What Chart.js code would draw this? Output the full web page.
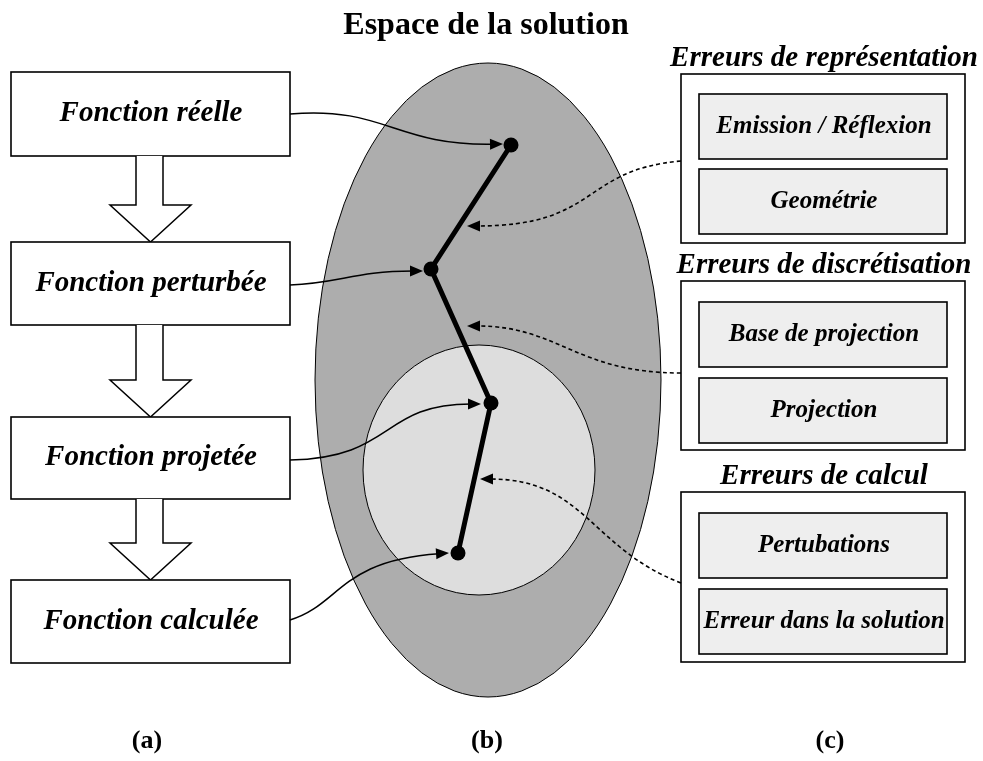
<!DOCTYPE html>
<html>
<head>
<meta charset="utf-8">
<script src="https://cdn.jsdelivr.net/npm/chart.js@4"></script>
<style>
  body { margin: 0; background: #fff; }
  canvas { display: block; }
</style>
</head>
<body>
<canvas id="c" width="983" height="761"></canvas>
<script>
// ---------- DONNEES ----------
const TITLE = "Espace de la solution";
const PANEL_LABELS = ["(a)", "(b)", "(c)"];
const PANEL_X = [147, 487, 830];

// chemin dans l'espace de la solution
const pathX = [511, 431, 491, 458];
const pathY = [145, 269, 403, 553];

// colonne (a)
const leftLabels = ["Fonction réelle", "Fonction perturbée", "Fonction projetée", "Fonction calculée"];
const leftTop = [72, 242, 417, 580];
const leftBottom = [156, 325, 499, 663];

// colonne (c)
const groupTitles = ["Erreurs de représentation", "Erreurs de discrétisation", "Erreurs de calcul"];
const groupItems = [
  ["Emission / Réflexion", "Geométrie"],
  ["Base de projection", "Projection"],
  ["Pertubations", "Erreur dans la solution"]
];
const groupTop = [74, 281, 492];
const groupBottom = [243, 450, 662];
const itemTop = [[94, 169], [302, 378], [513, 589]];

// liens (courbes de Bezier : depart, ctrl1, ctrl2, arrivee)
const solidLinks = [
  [[290, 114], [385, 106], [395, 146], [503, 144]],
  [[290, 285], [340, 283], [355, 271], [423, 271]],
  [[290, 460], [395, 458], [380, 404], [481, 404]],
  [[290, 620], [340, 605], [340, 560], [449, 553]]
];
const dottedLinks = [
  [[681, 161], [580, 170], [600, 226], [467, 226]],
  [[681, 373], [575, 373], [560, 326], [467, 326]],
  [[681, 583], [590, 548], [585, 479], [480, 479]]
];

// ---------- DESSIN ----------
const SERIF = '"Liberation Serif", "DejaVu Serif", serif';

function arrowHead(ctx, x, y, ang) {
  const L = 13, W = 5.5;
  ctx.beginPath();
  ctx.moveTo(x, y);
  ctx.lineTo(x - L * Math.cos(ang) + W * Math.sin(ang), y - L * Math.sin(ang) - W * Math.cos(ang));
  ctx.lineTo(x - L * Math.cos(ang) - W * Math.sin(ang), y - L * Math.sin(ang) + W * Math.cos(ang));
  ctx.closePath();
  ctx.fill();
}

function drawLink(ctx, X, Y, link, dashed) {
  const p = link.map(q => [X(q[0]), Y(q[1])]);
  const ang = Math.atan2(p[3][1] - p[2][1], p[3][0] - p[2][0]);
  const ex = p[3][0] - 10 * Math.cos(ang), ey = p[3][1] - 10 * Math.sin(ang);
  ctx.save();
  ctx.strokeStyle = "#000";
  ctx.fillStyle = "#000";
  ctx.lineWidth = dashed ? 1.6 : 1.5;
  ctx.setLineDash(dashed ? [4, 3] : []);
  ctx.beginPath();
  ctx.moveTo(p[0][0], p[0][1]);
  ctx.bezierCurveTo(p[1][0], p[1][1], p[2][0], p[2][1], ex, ey);
  ctx.stroke();
  ctx.setLineDash([]);
  arrowHead(ctx, p[3][0], p[3][1], ang);
  ctx.restore();
}

function box(ctx, x0, y0, x1, y1, fill) {
  ctx.fillStyle = fill;
  ctx.fillRect(x0, y0, x1 - x0, y1 - y0);
  ctx.strokeStyle = "#000";
  ctx.lineWidth = 1.6;
  ctx.strokeRect(x0, y0, x1 - x0, y1 - y0);
}

const diagram = {
  id: "diagram",
  beforeDatasetsDraw(chart) {
    const ctx = chart.ctx;
    const X = v => chart.scales.x.getPixelForValue(v);
    const Y = v => chart.scales.y.getPixelForValue(v);
    ctx.save();

    // ellipses
    ctx.lineWidth = 1;
    ctx.strokeStyle = "#000";
    ctx.fillStyle = "#adadad";
    ctx.beginPath();
    ctx.ellipse(X(488), Y(380), X(661) - X(488), Y(697) - Y(380), 0, 0, Math.PI * 2);
    ctx.fill(); ctx.stroke();
    ctx.fillStyle = "#dddddd";
    ctx.beginPath();
    ctx.ellipse(X(479), Y(470), X(595) - X(479), Y(595) - Y(470), 0, 0, Math.PI * 2);
    ctx.fill(); ctx.stroke();

    // titre
    ctx.fillStyle = "#000";
    ctx.textAlign = "center";
    ctx.textBaseline = "middle";
    ctx.font = "bold 32px " + SERIF;
    ctx.fillText(TITLE, X(486), Y(26));

    // colonne (a)
    leftLabels.forEach((lab, i) => {
      box(ctx, X(11), Y(leftTop[i]), X(290), Y(leftBottom[i]), "#fff");
      ctx.fillStyle = "#000";
      ctx.font = "italic bold 29px " + SERIF;
      ctx.fillText(lab, X(151), Y((leftTop[i] + leftBottom[i]) / 2));
      if (i < leftLabels.length - 1) {
        const y0 = Y(leftBottom[i]), tip = Y(leftTop[i + 1]), hy = Y(leftTop[i + 1] - 37);
        ctx.beginPath();
        ctx.moveTo(X(136), y0);
        ctx.lineTo(X(136), hy);
        ctx.lineTo(X(110), hy);
        ctx.lineTo(X(150.5), tip);
        ctx.lineTo(X(191), hy);
        ctx.lineTo(X(163), hy);
        ctx.lineTo(X(163), y0);
        ctx.fillStyle = "#fff";
        ctx.fill();
        ctx.lineWidth = 1.5;
        ctx.strokeStyle = "#000";
        ctx.stroke();
      }
    });

    // colonne (c)
    groupTitles.forEach((t, g) => {
      ctx.fillStyle = "#000";
      ctx.font = "italic bold 29px " + SERIF;
      ctx.fillText(t, X(824), Y(groupTop[g] - 15));
      box(ctx, X(681), Y(groupTop[g]), X(965), Y(groupBottom[g]), "#fff");
      groupItems[g].forEach((it, k) => {
        const t0 = itemTop[g][k];
        box(ctx, X(699), Y(t0), X(947), Y(t0 + 65), "#eeeeee");
        ctx.fillStyle = "#000";
        ctx.font = "italic bold 25px " + SERIF;
        ctx.fillText(it, X(824), Y(t0 + 33));
      });
    });

    // liens
    solidLinks.forEach(l => drawLink(ctx, X, Y, l, false));
    dottedLinks.forEach(l => drawLink(ctx, X, Y, l, true));

    // etiquettes (a) (b) (c)
    ctx.fillStyle = "#000";
    ctx.font = "bold 26px " + SERIF;
    PANEL_LABELS.forEach((lab, i) => ctx.fillText(lab, X(PANEL_X[i]), Y(741)));

    ctx.restore();
  }
};

new Chart(document.getElementById("c"), {
  type: "scatter",
  data: {
    datasets: [{
      data: pathX.map((x, i) => ({ x: x, y: pathY[i] })),
      showLine: true,
      borderColor: "#000",
      borderWidth: 5,
      pointRadius: 7.5,
      pointBackgroundColor: "#000",
      pointBorderWidth: 0
    }]
  },
  options: {
    responsive: false,
    animation: false,
    layout: { padding: 0, autoPadding: false },
    plugins: { legend: { display: false }, tooltip: { enabled: false } },
    scales: {
      x: { type: "linear", min: 0, max: 983, display: false },
      y: { type: "linear", min: 0, max: 761, reverse: true, display: false }
    }
  },
  plugins: [diagram]
});
</script>
</body>
</html>
